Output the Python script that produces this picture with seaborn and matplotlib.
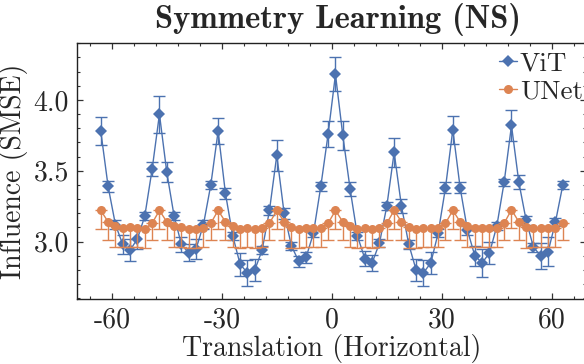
import numpy as np
import pandas as pd
import seaborn as sns
import matplotlib
matplotlib.use("Agg")
import matplotlib.pyplot as plt
from matplotlib.lines import Line2D
from matplotlib.ticker import MultipleLocator, FixedLocator, FixedFormatter

# ---- data ----
translation = list(range(-63, 64, 2))

vit_mean = [3.78, 3.39, 3.12, 2.98, 2.94, 3.02, 3.18, 3.51,
            3.90, 3.49, 3.18, 2.98, 2.92, 2.95, 3.12, 3.40,
            3.78, 3.34, 3.04, 2.84, 2.78, 2.80, 2.94, 3.22,
            3.61, 3.20, 2.97, 2.86, 2.89, 3.06, 3.39, 3.76,
            4.18, 3.75, 3.37, 3.04, 2.88, 2.85, 2.99, 3.25,
            3.63, 3.25, 2.98, 2.80, 2.78, 2.85, 3.06, 3.38,
            3.79, 3.38, 3.08, 2.90, 2.85, 2.92, 3.11, 3.42,
            3.82, 3.42, 3.15, 2.96, 2.90, 2.93, 3.14, 3.40]
vit_err = [0.10, 0.04, 0.03, 0.07, 0.08, 0.07, 0.03, 0.05,
           0.13, 0.07, 0.03, 0.05, 0.06, 0.07, 0.03, 0.03,
           0.09, 0.04, 0.03, 0.08, 0.09, 0.08, 0.03, 0.03,
           0.11, 0.04, 0.03, 0.04, 0.04, 0.03, 0.03, 0.09,
           0.12, 0.10, 0.05, 0.03, 0.055, 0.055, 0.03, 0.03,
           0.10, 0.05, 0.03, 0.08, 0.09, 0.08, 0.03, 0.04,
           0.10, 0.04, 0.03, 0.07, 0.10, 0.08, 0.03, 0.025,
           0.11, 0.05, 0.03, 0.03, 0.09, 0.10, 0.03, 0.03]

unet_mean = [3.22, 3.14, 3.11, 3.095, 3.10, 3.095, 3.09, 3.13,
             3.22, 3.14, 3.11, 3.10, 3.09, 3.09, 3.095, 3.13,
             3.22, 3.14, 3.11, 3.09, 3.095, 3.09, 3.095, 3.13,
             3.22, 3.14, 3.10, 3.09, 3.095, 3.095, 3.095, 3.13,
             3.22, 3.14, 3.11, 3.09, 3.095, 3.09, 3.095, 3.13,
             3.22, 3.14, 3.10, 3.09, 3.095, 3.095, 3.095, 3.13,
             3.22, 3.14, 3.11, 3.095, 3.095, 3.095, 3.095, 3.13,
             3.225, 3.14, 3.10, 3.095, 3.095, 3.095, 3.095, 3.13]
unet_err_low = [0.13, 0.127, 0.145, 0.135, 0.135, 0.135, 0.135, 0.12] * 8

x_ticks = [-60, -30, 0, 30, 60]
x_tick_labels = ["-60", "-30", "0", "30", "60"]
y_ticks = [3.0, 3.5, 4.0]
y_tick_labels = ["3.0", "3.5", "4.0"]

df = pd.DataFrame({
    "Translation": translation * 2,
    "Influence": vit_mean + unet_mean,
    "Model": ["ViT"] * len(translation) + ["UNet"] * len(translation),
})

# ---- style ----
sns.set_theme(style="ticks")
plt.rcParams["font.family"] = ["cmr10", "DejaVu Serif"]
plt.rcParams["axes.formatter.use_mathtext"] = True
plt.rcParams["mathtext.fontset"] = "cm"

pal = sns.color_palette("deep")
c_vit, c_unet = pal[0], pal[1]

W, H = 584, 364
fig = plt.figure(figsize=(W / 100, H / 100), dpi=100)
ax = fig.add_axes([77.3 / W, 1 - 299.3 / H, 509.0 / W, 256.0 / H])

# ViT
ax.errorbar(translation, vit_mean, yerr=vit_err, fmt="none", ecolor=c_vit,
            elinewidth=1.0, capsize=4.5, capthick=1.0, zorder=2)
sns.lineplot(data=df[df.Model == "ViT"], x="Translation", y="Influence", ax=ax,
             color=c_vit, marker="D", markersize=6, markeredgewidth=0,
             linewidth=1.0, legend=False, zorder=3)
# UNet
ax.errorbar(translation, unet_mean, yerr=[unet_err_low, [0] * len(translation)],
            fmt="none", ecolor=c_unet, elinewidth=1.0, capsize=4.5, capthick=1.0,
            zorder=4)
sns.lineplot(data=df[df.Model == "UNet"], x="Translation", y="Influence", ax=ax,
             color=c_unet, marker="o", markersize=6.5, markeredgewidth=0,
             linewidth=1.0, legend=False, zorder=5)

ax.set_xlim(-69.4, 69.4)
ax.set_ylim(2.593, 4.40)
ax.xaxis.set_major_locator(FixedLocator(x_ticks))
ax.xaxis.set_major_formatter(FixedFormatter(x_tick_labels))
ax.xaxis.set_minor_locator(MultipleLocator(6))
ax.yaxis.set_major_locator(FixedLocator(y_ticks))
ax.yaxis.set_major_formatter(FixedFormatter(y_tick_labels))
ax.yaxis.set_minor_locator(MultipleLocator(0.1))
ax.tick_params(which="both", direction="in", top=True, right=True,
               color="#333333", labelsize=20, pad=6)
ax.tick_params(which="major", length=4, width=0.9)
ax.tick_params(which="minor", length=2.5, width=0.8)
for s in ax.spines.values():
    s.set_linewidth(1.0)
    s.set_color("#222222")

ax.set_xlabel("Translation (Horizontal)", fontsize=20, labelpad=0)
ax.set_ylabel("Influence (SMSE)", fontsize=20, labelpad=4)
fig.text(338 / W, 1 - 19 / H, "Symmetry Learning (NS)", fontsize=23.5,
         fontfamily="cmb10", ha="center", va="center")

handles = [
    Line2D([0], [0], color=c_vit, marker="D", markersize=6, markeredgewidth=0, lw=1.0),
    Line2D([0], [0], color=c_unet, marker="o", markersize=6.5, markeredgewidth=0, lw=1.0),
]
fig.legend(handles, ["ViT", "UNet"], loc="upper left",
           bbox_to_anchor=(499 / W, 1 - 52 / H), bbox_transform=fig.transFigure,
           frameon=False, fontsize=19.5, handlelength=0.65, handletextpad=0.12,
           labelspacing=0.12, borderpad=0, borderaxespad=0)

fig.savefig("out.png", dpi=100)
